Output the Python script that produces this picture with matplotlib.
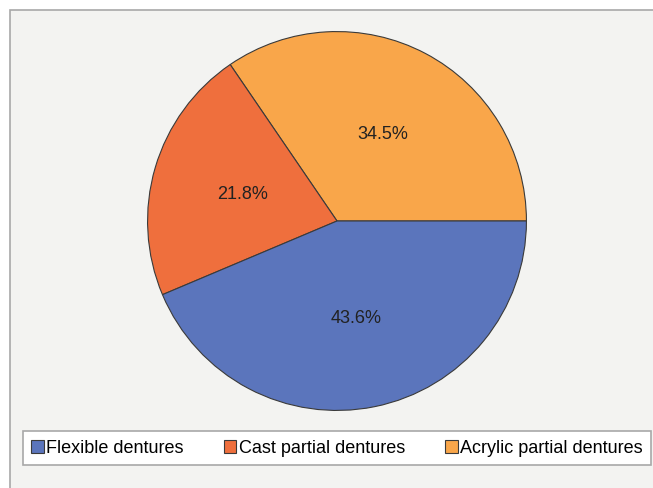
import matplotlib
matplotlib.use("Agg")
import matplotlib.pyplot as plt
from matplotlib.patches import Rectangle

plt.rcParams["font.family"] = ["Liberation Sans", "DejaVu Sans"]

# pie drawn counter-clockwise from 3 o'clock
labels = ["Acrylic partial dentures", "Cast partial dentures", "Flexible dentures"]
shares = [34.5, 21.8, 43.6]
colors = ["#f9a64a", "#ef6f3d", "#5b75bc"]
legend_order = ["Flexible dentures", "Cast partial dentures", "Acrylic partial dentures"]

W, H = 653, 489
fig = plt.figure(figsize=(W / 100, H / 100), dpi=100)
fig.patch.set_facecolor("white")

# grey plot frame
fig.patches.append(Rectangle((10 / W, -0.1), 1.2, (H - 11) / H + 0.1,
                             transform=fig.transFigure, facecolor="#f3f3f1",
                             edgecolor="#a8a8a8", lw=1.2, zorder=-5))

cx, cy, r = 337, 222, 190
ax = fig.add_axes([(cx - r) / W, (H - cy - r) / H, 2 * r / W, 2 * r / H])
ax.set_zorder(2)
wedges, texts, autotexts = ax.pie(
    shares, colors=colors, startangle=0, counterclock=True,
    autopct=lambda p: f"{p:.1f}%", pctdistance=0.52,
    wedgeprops=dict(edgecolor="#3a3a3a", linewidth=0.8),
    textprops=dict(fontsize=13, color="#222222"))
ax.set_xlim(-1.003, 1.003)
ax.set_ylim(-1.003, 1.003)
ax.set_aspect("equal")
ax.axis("off")

handles = [wedges[labels.index(l)] for l in legend_order]
leg = fig.legend(handles, legend_order, ncol=3, loc="center",
                 bbox_to_anchor=(337 / W, (H - 449) / H),
                 frameon=True, fancybox=False, fontsize=13, framealpha=1,
                 handlelength=0.7, handleheight=0.7, handletextpad=0.15,
                 columnspacing=2.2, borderpad=0.45)
leg.set_zorder(3)
leg.get_frame().set_edgecolor("#a8a8a8")
leg.get_frame().set_linewidth(1.2)
for h in leg.legend_handles:
    h.set_edgecolor("#3a3a3a")
    h.set_linewidth(0.8)

fig.savefig("out.png", dpi=100)
